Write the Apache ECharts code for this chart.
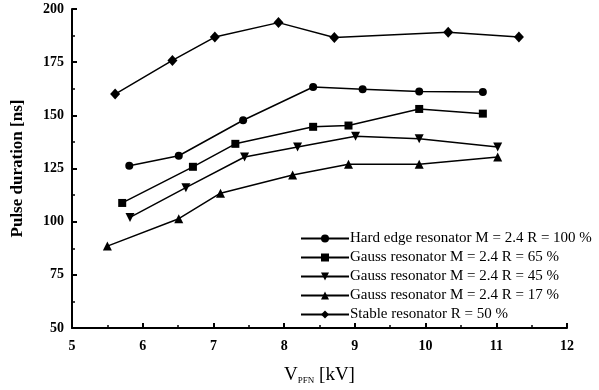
<!DOCTYPE html>
<html><head><meta charset="utf-8">
<script src="https://cdn.jsdelivr.net/npm/echarts@6/dist/echarts.min.js"></script>
<style>html,body{margin:0;padding:0;background:#fff}#c{width:599px;height:390px}</style>
</head><body><div id="c"></div>
<script>
const xTicks = [5,6,7,8,9,10,11,12];
const yTicks = [50,75,100,125,150,175,200];
const seriesNames = [
  'Hard edge resonator M = 2.4 R = 100 %',
  'Gauss resonator M = 2.4 R = 65 %',
  'Gauss resonator M = 2.4 R = 45 %',
  'Gauss resonator M = 2.4 R = 17 %',
  'Stable resonator R = 50 %'
];
const hardEdge100 = [[5.81,126.3],[6.51,131],[7.42,147.7],[8.41,163.3],[9.11,162.3],[9.91,161.2],[10.81,161]];
const gauss65 = [[5.71,108.8],[6.71,125.8],[7.31,136.6],[8.41,144.6],[8.91,145.2],[9.91,153],[10.81,150.8]];
const gauss45 = [[5.82,102],[6.61,116],[7.44,130.4],[8.19,135.1],[9.01,140.2],[9.91,139],[11.02,135.1]];
const gauss17 = [[5.5,88.5],[6.51,101.4],[7.1,113.4],[8.12,121.9],[8.91,127],[9.91,127],[11.02,130.4]];
const stable50 = [[5.61,160],[6.42,175.8],[7.02,186.8],[7.92,193.6],[8.71,186.6],[10.32,189.1],[11.32,186.8]];

const font = 'Liberation Serif';
function mk(name, data, symbol, size, rot){
  return {name, type:'line', data, symbol, symbolSize:size, symbolRotate:rot||0,
    lineStyle:{color:'#000',width:1.5}, itemStyle:{color:'#000'}, z:3};
}
const chart = echarts.init(document.getElementById('c'));
chart.setOption({
  animation:false,
  grid:{left:72,right:32,top:9,bottom:59},
  legend:{
    orient:'vertical', left:300, top:230, padding:0, itemWidth:48, itemHeight:10, itemGap:2,
    textStyle:{fontFamily:font,fontSize:15,lineHeight:17,color:'#000',padding:[0,0,0,-4]},
    data:seriesNames
  },
  xAxis:{type:'value',min:5,max:12,interval:1,
    axisLine:{lineStyle:{color:'#000',width:2}},
    axisTick:{inside:true,length:5,lineStyle:{color:'#000',width:2}},
    minorTick:{show:true,splitNumber:2,length:3,lineStyle:{color:'#000',width:1.5}},
    splitLine:{show:false},
    axisLabel:{fontFamily:font,fontWeight:'bold',fontSize:14,color:'#000',margin:11,
      formatter:v=>xTicks.includes(v)?String(v):''},
    name:'{v|V}{s|PFN}{u| [kV]}', nameLocation:'middle', nameGap:37,
    nameTextStyle:{rich:{
      v:{fontFamily:font,fontSize:19,color:'#000',verticalAlign:'bottom',lineHeight:20},
      s:{fontFamily:font,fontSize:9,color:'#000',verticalAlign:'bottom',lineHeight:14},
      u:{fontFamily:font,fontSize:19,color:'#000',verticalAlign:'bottom',lineHeight:20}
    }}
  },
  yAxis:{type:'value',min:50,max:200,interval:25,
    axisLine:{show:true,lineStyle:{color:'#000',width:2}},
    axisTick:{show:true,inside:true,length:5,lineStyle:{color:'#000',width:2}},
    minorTick:{show:true,splitNumber:2,length:3,lineStyle:{color:'#000',width:1.5}},
    splitLine:{show:false},
    axisLabel:{fontFamily:font,fontWeight:'bold',fontSize:14,color:'#000',margin:8,
      formatter:v=>yTicks.includes(v)?String(v):''},
    name:'Pulse duration [ns]', nameLocation:'middle', nameGap:46,
    nameTextStyle:{fontFamily:font,fontWeight:'bold',fontSize:17,color:'#000'}
  },
  series:[
    mk(seriesNames[0], hardEdge100, 'circle', 8),
    mk(seriesNames[1], gauss65, 'rect', 8),
    mk(seriesNames[2], gauss45, 'triangle', 9, 180),
    mk(seriesNames[3], gauss17, 'triangle', 9),
    mk(seriesNames[4], stable50, 'diamond', [10,11])
  ]
});
</script></body></html>
